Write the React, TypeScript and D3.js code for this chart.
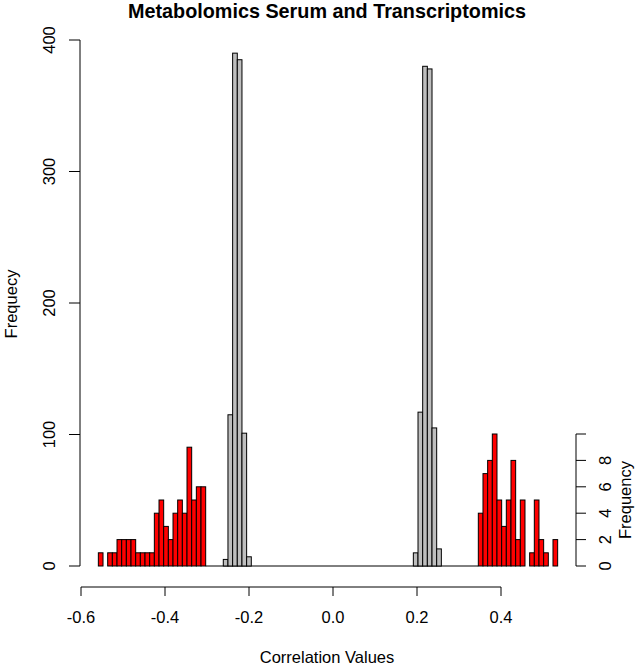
import React from "react";
import * as d3 from "d3";

// ---- data ----
const binWidth = 1 / 90;

const redNegStart = -0.5587;
const redNegCounts = [1, 0, 1, 1, 2, 2, 2, 2, 1, 1, 1, 1, 4, 5, 3, 2, 4, 5, 4, 9, 5, 6, 6];

const grayNegStart = -0.2612;
const grayNegCounts = [5, 115, 390, 385, 101, 7];

const grayPosStart = 0.1913;
const grayPosCounts = [10, 117, 380, 378, 105, 13];

const redPosStart = 0.346;
const redPosCounts = [4, 7, 8, 10, 5, 3, 5, 8, 2, 5, 0, 1, 5, 2, 1, 0, 2];

const xTicks = [-0.6, -0.4, -0.2, 0.0, 0.2, 0.4];
const yTicks = [0, 100, 200, 300, 400];
const y2Ticks = [0, 2, 4, 6, 8, 10];
const y2Labels = [0, 2, 4, 6, 8];

const title = "Metabolomics Serum and Transcriptomics";
const xLabel = "Correlation Values";
const yLabel = "Frequecy";
const y2Label = "Frequency";

const FONT = "'Liberation Sans', Arial, Helvetica, sans-serif";

export default function App() {
  const W = 638;
  const H = 666;
  const x = d3.scaleLinear().domain([-0.6, 0.6]).range([81, 585]);
  const y = d3.scaleLinear().domain([0, 400]).range([566, 40]);
  const y2 = d3.scaleLinear().domain([0, 10]).range([566, 434]);

  const toBins = (start: number, counts: number[]) =>
    counts.map((c, i) => ({ x0: start + i * binWidth, x1: start + (i + 1) * binWidth, c }));

  const redBins = [...toBins(redNegStart, redNegCounts), ...toBins(redPosStart, redPosCounts)];
  const grayBins = [...toBins(grayNegStart, grayNegCounts), ...toBins(grayPosStart, grayPosCounts)];

  const baseY = y(0);
  const redNegEnd = redNegStart + redNegCounts.length * binWidth;
  const tick = 9;
  const fs = 16.5;
  const axisX = 80;
  const axisY = 587;
  const axis2X = 576;

  return (
    <svg
      width={W}
      height={H}
      style={{ position: "absolute", left: 0, top: 0, background: "#fff" }}
      fontFamily={FONT}
    >
      <rect x={0} y={0} width={W} height={H} fill="#fff" />
      {/* title */}
      <text x={327} y={18} textAnchor="middle" fontWeight="bold" fontSize={19.8} fill="#000">
        {title}
      </text>

      {/* zero baseline between histograms */}
      <line x1={x(redNegEnd)} x2={x(redPosStart)} y1={baseY} y2={baseY} stroke="#000" strokeWidth={1} />

      {/* red bars (secondary axis) */}
      {redBins.map((b, i) => (
        <rect
          key={"r" + i}
          x={x(b.x0)}
          y={y2(b.c)}
          width={x(b.x1) - x(b.x0)}
          height={baseY - y2(b.c)}
          fill="#FF0000"
          stroke="#000"
          strokeWidth={1}
        />
      ))}

      {/* gray bars */}
      {grayBins.map((b, i) => (
        <rect
          key={"g" + i}
          x={x(b.x0)}
          y={y(b.c)}
          width={x(b.x1) - x(b.x0)}
          height={baseY - y(b.c)}
          fill="#BEBEBE"
          stroke="#000"
          strokeWidth={1}
        />
      ))}

      {/* x axis */}
      <line x1={x(xTicks[0])} x2={x(xTicks[xTicks.length - 1])} y1={axisY} y2={axisY} stroke="#000" />
      {xTicks.map((t) => (
        <g key={"xt" + t}>
          <line x1={x(t)} x2={x(t)} y1={axisY} y2={axisY + tick} stroke="#000" />
          <text x={x(t)} y={623} textAnchor="middle" fontSize={fs} fill="#000">
            {t.toFixed(1)}
          </text>
        </g>
      ))}
      <text x={327} y={663} textAnchor="middle" fontSize={fs} fill="#000">
        {xLabel}
      </text>

      {/* left y axis */}
      <line x1={axisX} x2={axisX} y1={y(0)} y2={y(400)} stroke="#000" />
      {yTicks.map((t) => (
        <g key={"yt" + t}>
          <line x1={axisX - tick - 2} x2={axisX} y1={y(t)} y2={y(t)} stroke="#000" />
          <text
            transform={`translate(55,${y(t)}) rotate(-90)`}
            textAnchor="middle"
            fontSize={fs}
            fill="#000"
          >
            {t}
          </text>
        </g>
      ))}
      <text transform={`translate(17,304) rotate(-90)`} textAnchor="middle" fontSize={fs} fill="#000">
        {yLabel}
      </text>

      {/* right y axis */}
      <line x1={axis2X} x2={axis2X} y1={y2(0)} y2={y2(10)} stroke="#000" />
      {y2Ticks.map((t) => (
        <line key={"y2t" + t} x1={axis2X} x2={axis2X + tick + 1} y1={y2(t)} y2={y2(t)} stroke="#000" />
      ))}
      {y2Labels.map((t) => (
        <text
          key={"y2l" + t}
          transform={`translate(611,${y2(t)}) rotate(-90)`}
          textAnchor="middle"
          fontSize={fs}
          fill="#000"
        >
          {t}
        </text>
      ))}
      <text transform={`translate(631,500) rotate(-90)`} textAnchor="middle" fontSize={fs} fill="#000">
        {y2Label}
      </text>
    </svg>
  );
}
